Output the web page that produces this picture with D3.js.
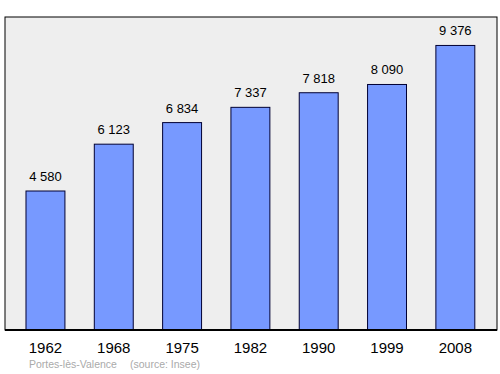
<!DOCTYPE html>
<html>
<head>
<meta charset="utf-8">
<script src="https://cdn.jsdelivr.net/npm/d3@7"></script>
<style>
body { margin: 0; background: #fff; }
text { font-family: "Liberation Sans", Arial, sans-serif; }
</style>
</head>
<body>
<svg width="500" height="374"></svg>
<script>
let svg = d3.select("svg");

let years = ["1962", "1968", "1975", "1982", "1990", "1999", "2008"];
let population = [4580, 6123, 6834, 7337, 7818, 8090, 9376];
let placeName = "Portes-lès-Valence";
let sourceName = "(source: Insee)";

let frame = {left: 5, top: 17, right: 497, bottom: 330};

let x = d3.scaleBand()
    .domain(years)
    .range([11.3, 489.5])
    .paddingInner(0.43)
    .paddingOuter(0.215);

let y = d3.scaleLinear()
    .domain([0, d3.max(population) * 1.1])
    .range([frame.bottom, frame.top]);

let fmt = v => d3.format(",")(v).replace(",", " ");

// plot background
svg.append("rect")
    .attr("x", frame.left)
    .attr("y", frame.top)
    .attr("width", frame.right - frame.left)
    .attr("height", frame.bottom - frame.top)
    .attr("fill", "#eeeeee")
    .attr("stroke", "#000")
    .attr("stroke-width", 1);

// bars
svg.selectAll("rect.bar")
    .data(population)
    .enter().append("rect")
    .attr("class", "bar")
    .attr("x", (d, i) => x(years[i]))
    .attr("y", d => y(d))
    .attr("width", x.bandwidth())
    .attr("height", d => y(0) - y(d))
    .attr("fill", "#7799ff")
    .attr("stroke", "#000033")
    .attr("stroke-width", 1);

// value labels
svg.selectAll("text.val")
    .data(population)
    .enter().append("text")
    .attr("class", "val")
    .attr("x", (d, i) => x(years[i]) + x.bandwidth() / 2)
    .attr("y", d => y(d) - 10)
    .attr("text-anchor", "middle")
    .style("font-size", "13px")
    .attr("fill", "#000")
    .text(d => fmt(d));

// bottom axis line
svg.append("line")
    .attr("x1", frame.left)
    .attr("x2", frame.right)
    .attr("y1", frame.bottom)
    .attr("y2", frame.bottom)
    .attr("stroke", "#000")
    .attr("stroke-width", 2);

// year labels
svg.selectAll("text.year")
    .data(years)
    .enter().append("text")
    .attr("class", "year")
    .attr("x", d => x(d) + x.bandwidth() / 2)
    .attr("y", 353)
    .attr("text-anchor", "middle")
    .style("font-size", "15px")
    .attr("fill", "#000")
    .text(d => d);

svg.append("text")
    .attr("x", 29)
    .attr("y", 368)
    .style("font-size", "10.5px")
    .attr("fill", "#aaaaaa")
    .text(placeName);

svg.append("text")
    .attr("x", 130)
    .attr("y", 368)
    .style("font-size", "10.5px")
    .attr("fill", "#aaaaaa")
    .text(sourceName);
</script>
</body>
</html>
